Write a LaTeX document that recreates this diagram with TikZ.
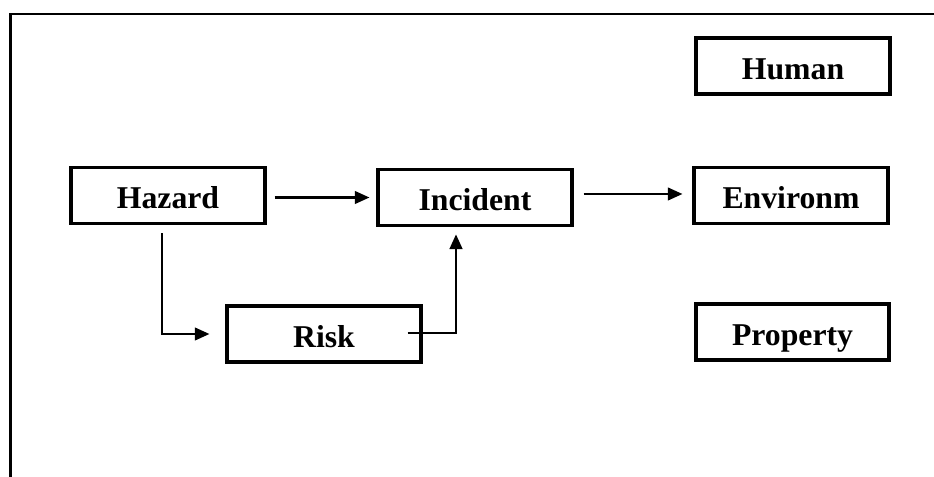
\documentclass[tikz,border=0pt]{standalone}
\usepackage{fontspec}
\setmainfont{Liberation Serif}
\usetikzlibrary{arrows.meta,calc}
\tikzset{
  stagebox/.style={draw, line width=2.8pt, inner sep=0pt,
    minimum width=145pt, minimum height=42pt,
    text height=20pt, text depth=0pt,
    font=\fontsize{23.8pt}{26pt}\selectfont\bfseries},
  flow/.style={line width=1.7pt, -{Triangle[length=11pt,width=9.5pt]}},
  frameline/.style={line width=1.8pt}
}
\begin{document}
\begin{tikzpicture}[x=0.75pt,y=-0.75pt]
  \useasboundingbox (0,0) rectangle (934,477);
  % outer frame (top and left sides)
  \draw[frameline] (10.3,477) -- (10.3,14.3) -- (934,14.3);

  % stages of the chain
  \node[stagebox] (haz)  at (168,195.5) {Hazard};
  \node[stagebox] (inc)  at (475,197.5) {Incident};
  \node[stagebox] (risk) at (324,334)   {Risk};
  % consequence targets
  \node[stagebox] (hum)  at (793,66)    {Human};
  \node[stagebox] (env)  at (791,195.5) {Environm};
  \node[stagebox] (prop) at (792.5,332) {Property};

  % connectors
  \draw[flow] ($(haz.east |- inc.west)+(8,0)$) -- ($(inc.west)+(-7,0)$);
  \draw[flow] ($(inc.east)+(10,-3.5)$) -- ($(env.west)+(-10,-1.5)$);
  \draw[flow] ($(haz.south)+(-6,8)$) |- ($(risk.west)+(-16,0)$);
  \draw[flow] ($(risk.east)+(-15,-1)$) -| ($(inc.south)+(-19,7)$);
\end{tikzpicture}
\end{document}
